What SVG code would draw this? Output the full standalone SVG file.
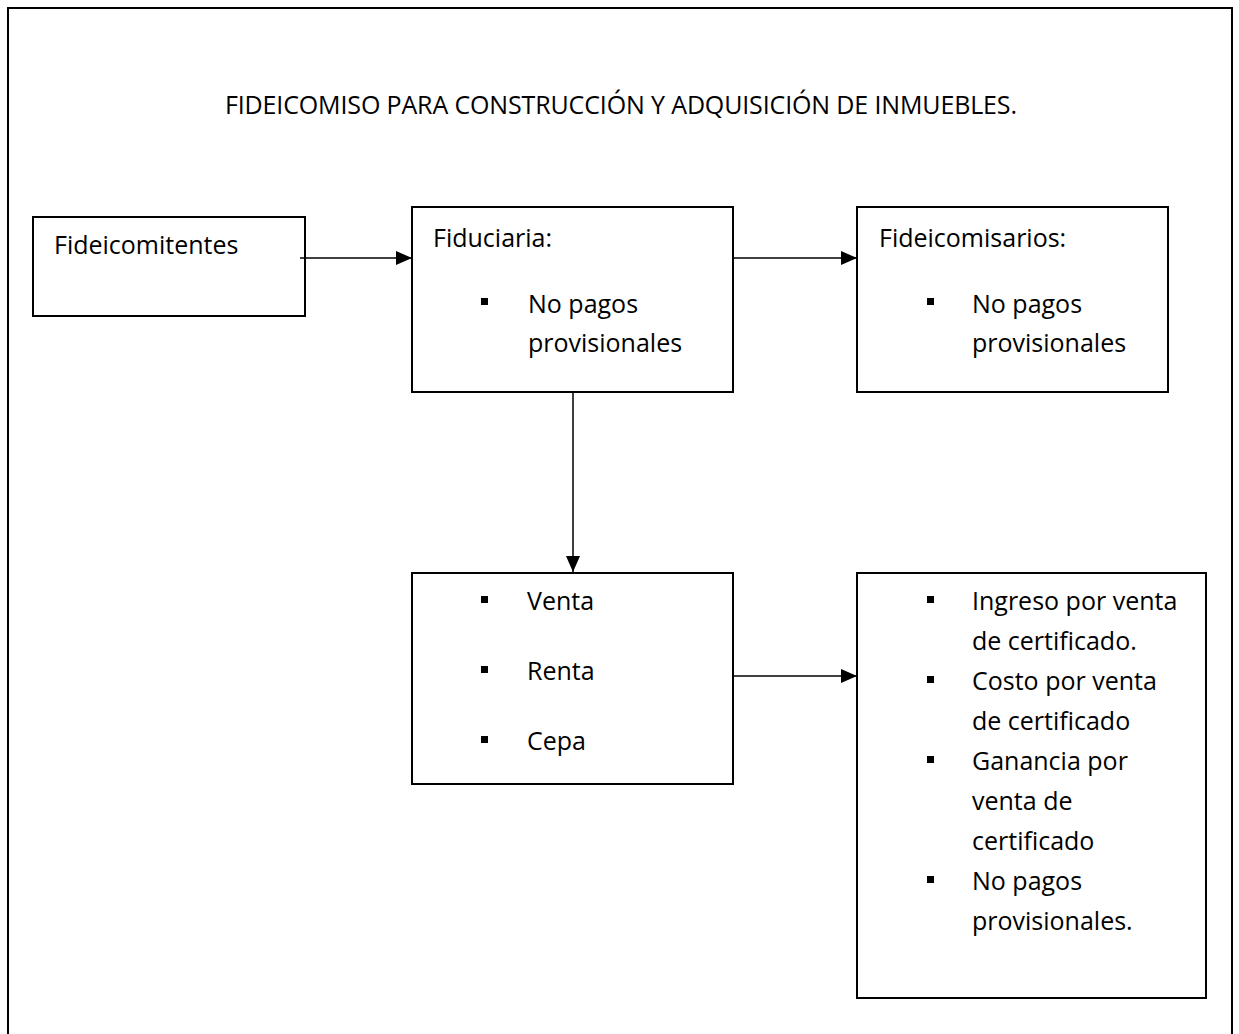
<svg xmlns="http://www.w3.org/2000/svg" width="1239" height="1034" viewBox="0 0 1239 1034">
<style>
.box{fill:#fff;stroke:#000;stroke-width:2}
.t{font-family:"Open Sans","Noto Sans",sans-serif;font-size:25px;fill:#000}
.b{fill:#000}
.c{stroke:#000;stroke-width:1.5;fill:none}
</style>
<defs>
<marker id="ah" viewBox="0 0 16 14" refX="16" refY="7" markerWidth="16" markerHeight="14" markerUnits="userSpaceOnUse" orient="auto">
<path d="M0,0 L16,7 L0,14 Z" fill="#000"/>
</marker>
</defs>
<rect x="0" y="0" width="1239" height="1034" fill="#fff"/>
<rect id="frame" x="8" y="8" width="1224" height="1040" fill="none" stroke="#000" stroke-width="2"/>
<text id="title" class="t" x="225" y="114" textLength="792" lengthAdjust="spacing">FIDEICOMISO PARA CONSTRUCCIÓN Y ADQUISICIÓN DE INMUEBLES.</text>
<g id="fideicomitentes">
<rect class="box" x="33" y="217" width="272" height="99"/>
<text class="t" x="54" y="254">Fideicomitentes</text>
</g>
<g id="fiduciaria">
<rect class="box" x="412" y="207" width="321" height="185"/>
<text class="t" x="433" y="247">Fiduciaria:</text>
<rect class="b" x="481" y="298" width="7" height="7"/>
<text class="t" x="528" y="313">No pagos</text>
<text class="t" x="528" y="352">provisionales</text>
</g>
<g id="fideicomisarios">
<rect class="box" x="857" y="207" width="311" height="185"/>
<text class="t" x="879" y="247">Fideicomisarios:</text>
<rect class="b" x="927" y="298" width="7" height="7"/>
<text class="t" x="972" y="313">No pagos</text>
<text class="t" x="972" y="352">provisionales</text>
</g>
<g id="operaciones">
<rect class="box" x="412" y="573" width="321" height="211"/>
<rect class="b" x="481" y="596" width="7" height="7"/>
<text class="t" x="527" y="610">Venta</text>
<rect class="b" x="481" y="666" width="7" height="7"/>
<text class="t" x="527" y="680">Renta</text>
<rect class="b" x="481" y="736" width="7" height="7"/>
<text class="t" x="527" y="750">Cepa</text>
</g>
<g id="resultados">
<rect class="box" x="857" y="573" width="349" height="425"/>
<rect class="b" x="927" y="596" width="7" height="7"/>
<text class="t" x="972" y="610">Ingreso por venta</text>
<text class="t" x="972" y="650">de certificado.</text>
<rect class="b" x="927" y="676" width="7" height="7"/>
<text class="t" x="972" y="690">Costo por venta</text>
<text class="t" x="972" y="730">de certificado</text>
<rect class="b" x="927" y="756" width="7" height="7"/>
<text class="t" x="972" y="770">Ganancia por</text>
<text class="t" x="972" y="810">venta de</text>
<text class="t" x="972" y="850">certificado</text>
<rect class="b" x="927" y="876" width="7" height="7"/>
<text class="t" x="972" y="890">No pagos</text>
<text class="t" x="972" y="930">provisionales.</text>
</g>
<g id="connectors">
<line class="c" x1="300" y1="258" x2="412" y2="258" marker-end="url(#ah)"/>
<line class="c" x1="733" y1="258" x2="857" y2="258" marker-end="url(#ah)"/>
<line class="c" x1="573" y1="392" x2="573" y2="572" marker-end="url(#ah)"/>
<line class="c" x1="733" y1="676" x2="857" y2="676" marker-end="url(#ah)"/>
</g>
</svg>
